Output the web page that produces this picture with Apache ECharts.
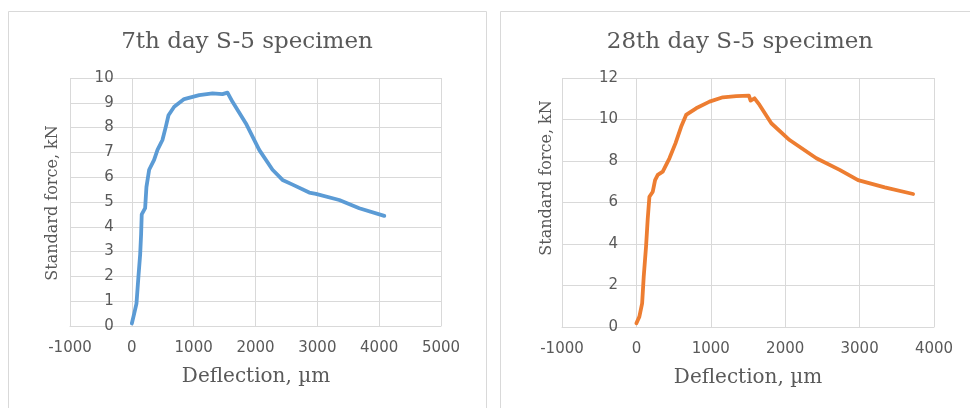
<!DOCTYPE html>
<html>
<head>
<meta charset="utf-8">
<script src="https://cdn.jsdelivr.net/npm/echarts@6/dist/echarts.min.js"></script>
<style>
  html, body { margin: 0; padding: 0; background: #fff; }
  #chart { width: 970px; height: 408px; }
</style>
</head>
<body>
<div id="chart"></div>
<script>
// ---- Data ----
const titles = ['7th day S-5 specimen', '28th day S-5 specimen'];
const xAxisTitle = 'Deflection, \u00b5m';
const yAxisTitle = 'Standard force, kN';

// 7th day specimen: deflection (µm) and force (kN)
const deflection7 = [0, 38, 75, 107, 135, 150, 160, 215, 236, 280, 360, 415, 495, 550, 593, 685, 846, 1090, 1305, 1466, 1547, 1628, 1845, 2060, 2275, 2437, 2600, 2869, 2977, 3354, 3678, 4083];
const force7      = [0.1, 0.5, 0.9, 2.0, 2.9, 3.7, 4.5, 4.75, 5.6, 6.3, 6.7, 7.1, 7.5, 8.04, 8.5, 8.84, 9.15, 9.31, 9.38, 9.35, 9.41, 9.04, 8.17, 7.1, 6.3, 5.89, 5.7, 5.38, 5.33, 5.08, 4.75, 4.44];

// 28th day specimen
const deflection28 = [0, 40, 77, 98, 130, 152, 175, 220, 251, 287, 354, 444, 525, 601, 668, 803, 983, 1162, 1342, 1512, 1535, 1588, 1655, 1813, 2059, 2419, 2732, 2979, 3338, 3719];
const force28      = [0.18, 0.5, 1.14, 2.4, 3.9, 5.2, 6.28, 6.52, 7.08, 7.33, 7.49, 8.13, 8.85, 9.65, 10.22, 10.54, 10.86, 11.07, 11.13, 11.15, 10.91, 11.02, 10.7, 9.82, 9.01, 8.13, 7.57, 7.08, 6.73, 6.41];

// Axis settings
const xMin = [-1000, -1000], xMax = [5000, 4000], xStep = [1000, 1000];
const yMin = [0, 0], yMax = [10, 12], yStep = [1, 2];
const colors = ['#5B9BD5', '#ED7D31'];

// ---- Build ----
const zip = (xs, ys) => xs.map((x, i) => [x, ys[i]]);
const seriesData = [zip(deflection7, force7), zip(deflection28, force28)];

const grid = '#D9D9D9';
const txt = '#595959';
const sansFont = 'DejaVu Sans';
const serifFont = 'DejaVu Serif';

const grids = [
  { left: 70, top: 78, width: 371, height: 248 },
  { left: 562, top: 78, width: 372, height: 249 }
];

const xAxes = [0, 1].map(i => ({
  type: 'value', gridIndex: i, min: xMin[i], max: xMax[i], interval: xStep[i],
  axisLine: { show: true, onZero: false, lineStyle: { color: grid, width: 1 } },
  axisTick: { show: false },
  axisLabel: { color: txt, fontFamily: sansFont, fontSize: 15, margin: 15, formatter: v => String(v) },
  splitLine: { show: true, lineStyle: { color: grid, width: 1 } }
}));

// y axes sit at x = 0 (offset from the grid's left edge to the zero line)
const yOffsets = [-62.7, -75];
const yAxes = [0, 1].map(i => ({
  type: 'value', gridIndex: i, min: yMin[i], max: yMax[i], interval: yStep[i],
  position: 'left', offset: yOffsets[i],
  axisLine: { show: false, onZero: false },
  axisTick: { show: false },
  axisLabel: { color: txt, fontFamily: sansFont, fontSize: 15, margin: 19, formatter: v => String(v) },
  splitLine: { show: true, lineStyle: { color: grid, width: 1 } }
}));

const series = [0, 1].map(i => ({
  type: 'line', xAxisIndex: i, yAxisIndex: i,
  data: seriesData[i], showSymbol: false, symbol: 'none', smooth: false,
  lineStyle: { color: colors[i], width: 3.8, cap: 'round', join: 'round' },
  itemStyle: { color: colors[i] }, animation: false
}));

const textEl = (x, y, text, size, rot) => ({
  type: 'text', x: x, y: y, rotation: rot || 0,
  style: { text: text, fill: txt, font: size + 'px "' + serifFont + '"', textAlign: 'center', textVerticalAlign: 'middle' }
});

const graphics = [
  { type: 'rect', shape: { x: 8.5, y: 11.5, width: 478, height: 420 }, style: { fill: 'none', stroke: grid, lineWidth: 1 }, z: -1 },
  { type: 'rect', shape: { x: 500.5, y: 11.5, width: 480, height: 420 }, style: { fill: 'none', stroke: grid, lineWidth: 1 }, z: -1 },
  textEl(247, 42, titles[0], 23),
  textEl(740, 42, titles[1], 23),
  textEl(256, 377, xAxisTitle, 20),
  textEl(748, 378, xAxisTitle, 20),
  textEl(53, 203, yAxisTitle, 16, Math.PI / 2),
  textEl(547, 178, yAxisTitle, 16, Math.PI / 2)
];

const chart = echarts.init(document.getElementById('chart'), null, { renderer: 'canvas' });
chart.setOption({
  animation: false,
  backgroundColor: '#ffffff',
  grid: grids,
  xAxis: xAxes,
  yAxis: yAxes,
  series: series,
  graphic: graphics
});
</script>
</body>
</html>
